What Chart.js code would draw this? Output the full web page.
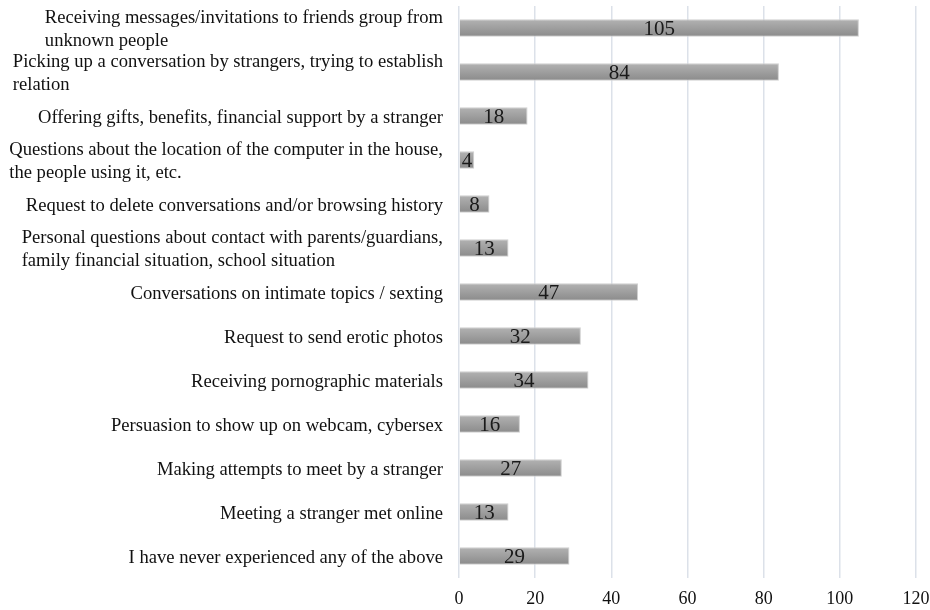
<!DOCTYPE html>
<html>
<head>
  <title>Online experiences</title>
  <script src="https://cdn.jsdelivr.net/npm/chart.js@4"></script>
  <style>
    html, body { margin: 0; padding: 0; background: #fff; }
    #wrap { width: 930px; height: 610px; }
  </style>
</head>
<body>
  <div id="wrap"><canvas id="chart"></canvas></div>
  <script>
    const categories = [
      ['Receiving messages/invitations to friends group from', 'unknown people'],
      ['Picking up a conversation by strangers, trying to establish', 'relation'],
      ['Offering gifts, benefits, financial support by a stranger'],
      ['Questions about the location of the computer in the house,', 'the people using it, etc.'],
      ['Request to delete conversations and/or browsing history'],
      ['Personal questions about contact with parents/guardians,', 'family financial situation, school situation'],
      ['Conversations on intimate topics / sexting'],
      ['Request to send erotic photos'],
      ['Receiving pornographic materials'],
      ['Persuasion to show up on webcam, cybersex'],
      ['Making attempts to meet by a stranger'],
      ['Meeting a stranger met online'],
      ['I have never experienced any of the above']
    ];
    const counts = [105, 84, 18, 4, 8, 13, 47, 32, 34, 16, 27, 13, 29];
    const xTicks = [0, 20, 40, 60, 80, 100, 120];

    const serif = '"Liberation Serif", "Times New Roman", serif';

    // category names drawn as left-aligned blocks that end at the axis gap
    const categoryLabels = {
      id: 'categoryLabels',
      afterDraw(chart) {
        const ctx = chart.ctx;
        const y = chart.scales.y;
        const right = chart.chartArea.left - 16;
        const lineH = 23;
        ctx.save();
        ctx.font = '18.6px ' + serif;
        ctx.fillStyle = '#111';
        ctx.textBaseline = 'middle';
        ctx.textAlign = 'left';
        categories.forEach((lines, i) => {
          const cy = y.getPixelForValue(i) + 2;
          const w = Math.max(...lines.map(l => ctx.measureText(l).width));
          const top = cy - (lines.length - 1) * lineH / 2;
          lines.forEach((l, j) => ctx.fillText(l, right - w, top + j * lineH));
        });
        ctx.restore();
      }
    };

    // value centred inside each bar
    const barValues = {
      id: 'barValues',
      afterDatasetsDraw(chart) {
        const ctx = chart.ctx;
        const meta = chart.getDatasetMeta(0);
        ctx.save();
        ctx.font = '21px ' + serif;
        ctx.fillStyle = '#1a1a1a';
        ctx.textAlign = 'center';
        ctx.textBaseline = 'middle';
        meta.data.forEach((bar, i) => {
          ctx.fillText(String(counts[i]), (bar.x + bar.base) / 2, bar.y + 1);
        });
        ctx.restore();
      }
    };

    function barFill(context) {
      const chart = context.chart;
      if (!chart.chartArea) return '#9e9e9e';
      const cy = chart.scales.y.getPixelForValue(context.dataIndex);
      const g = chart.ctx.createLinearGradient(0, cy - 9, 0, cy + 9);
      g.addColorStop(0, '#b3b3b3');
      g.addColorStop(1, '#8a8a8a');
      return g;
    }

    new Chart(document.getElementById('chart'), {
      type: 'bar',
      data: {
        labels: categories,
        datasets: [{
          data: counts,
          backgroundColor: barFill,
          borderColor: '#cfcfcf',
          borderWidth: 1,
          barPercentage: 0.4,
          categoryPercentage: 1.0
        }]
      },
      options: {
        indexAxis: 'y',
        responsive: true,
        maintainAspectRatio: false,
        animation: false,
        layout: { padding: { top: 6, right: 14, bottom: 0, left: 0 } },
        plugins: {
          legend: { display: false },
          tooltip: { enabled: false }
        },
        scales: {
          x: {
            min: 0,
            max: 120,
            afterBuildTicks: scale => { scale.ticks = xTicks.map(v => ({ value: v })); },
            afterFit: scale => {
              scale.height = 32;
              scale.paddingLeft = 0;
              scale.paddingRight = 0;
            },
            grid: { color: '#dce1e9', lineWidth: 1.5, drawTicks: false },
            border: { display: false },
            ticks: {
              padding: 10,
              color: '#111',
              font: { family: serif, size: 18 }
            }
          },
          y: {
            afterFit: scale => { scale.width = 459; },
            grid: { display: false },
            border: { display: false },
            ticks: { display: false }
          }
        }
      },
      plugins: [categoryLabels, barValues]
    });
  </script>
</body>
</html>
